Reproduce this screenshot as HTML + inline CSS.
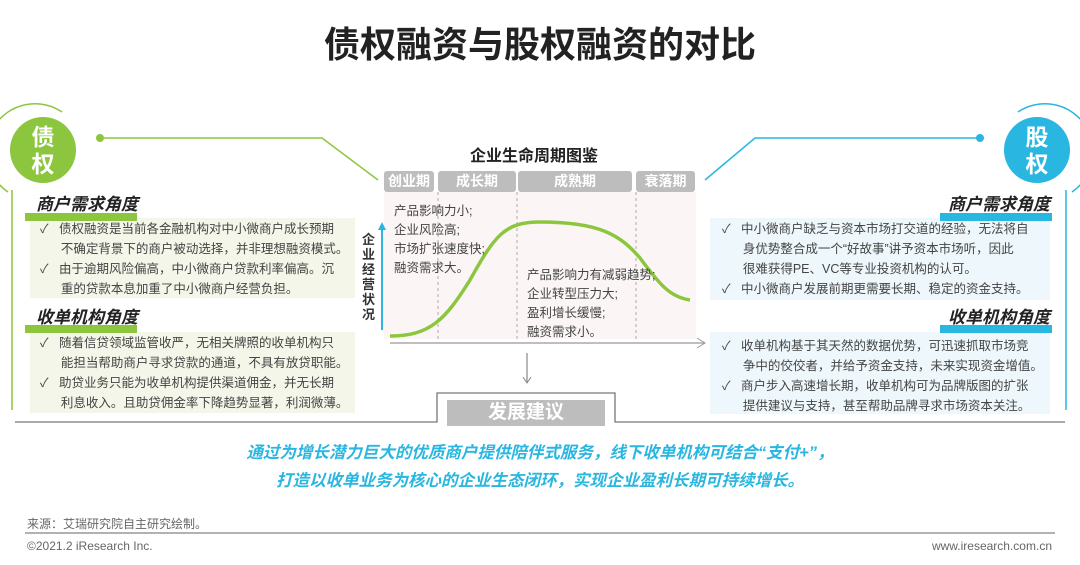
<!DOCTYPE html>
<html><head><meta charset="utf-8"><style>
body{margin:0;width:1080px;height:565px;background:#fff;position:relative;overflow:hidden;font-family:"Liberation Sans","Noto Sans CJK SC",sans-serif;}
.a{position:absolute;white-space:nowrap;}
.t{font-size:12.5px;color:#444;line-height:20px;}
.h{font-size:17px;font-weight:bold;font-style:italic;color:#222;}
.stg{position:absolute;top:171px;height:21px;background:#bdbdbd;color:#fff;font-weight:bold;font-size:14px;text-align:center;line-height:21px;border-radius:3px;}
</style></head><body>
<div class="a" style="left:0;width:1080px;top:16px;text-align:center;font-size:36px;font-weight:bold;color:#222;">债权融资与股权融资的对比</div>

<svg class="a" style="left:0;top:0" width="1080" height="565">
 <path d="M8,192 A42,42 0 0 1 62,112" stroke="#8cc63e" fill="none" stroke-width="1.5"/>
 <circle cx="43" cy="150" r="33" fill="#8cc63e"/>
 <circle cx="100" cy="138" r="4" fill="#8cc63e"/>
 <polyline points="100,138 322,138 378,180" stroke="#8cc63e" fill="none" stroke-width="1.5"/>
 <line x1="12" y1="190" x2="12" y2="410" stroke="#8cc63e" stroke-width="1.5"/>
 <path d="M1072,192 A42,42 0 0 0 1018,112" stroke="#29b6e0" fill="none" stroke-width="1.5"/>
 <circle cx="1037" cy="150" r="33" fill="#29b6e0"/>
 <circle cx="980" cy="138" r="4" fill="#29b6e0"/>
 <polyline points="980,138 755,138 705,180" stroke="#29b6e0" fill="none" stroke-width="1.5"/>
 <line x1="1066" y1="190" x2="1066" y2="410" stroke="#29b6e0" stroke-width="1.5"/>
 <rect x="30" y="218" width="325" height="80" fill="#f3f6e8"/>
 <rect x="30" y="332" width="325" height="81" fill="#f3f6e8"/>
 <rect x="710" y="218" width="340" height="82" fill="#eef7fb"/>
 <rect x="710" y="332" width="340" height="82" fill="#eef7fb"/>
 <rect x="25" y="213" width="112" height="8" fill="#8cc63e"/>
 <rect x="25" y="325" width="112" height="8" fill="#8cc63e"/>
 <rect x="940" y="213" width="112" height="8" fill="#29b6e0"/>
 <rect x="940" y="325" width="112" height="8" fill="#29b6e0"/>
 <rect x="384" y="192" width="312" height="147" fill="#fbf5f5"/>
 <g stroke="#aaa" stroke-dasharray="3,3"><line x1="438" y1="192" x2="438" y2="340"/><line x1="517" y1="192" x2="517" y2="340"/><line x1="636" y1="192" x2="636" y2="340"/></g>
 <path d="M390,336 C430,336 445,320 470,280 C495,235 505,222 540,222 C600,222 620,235 640,258 C660,285 670,297 690,300" stroke="#8cc63e" stroke-width="3.5" fill="none"/>
 <line x1="390" y1="343" x2="705" y2="343" stroke="#999" stroke-width="1.2"/>
 <polyline points="697,338 705,343 697,348" stroke="#999" fill="none"/>
 <line x1="382" y1="330" x2="382" y2="228" stroke="#29b6e0" stroke-width="2"/>
 <polygon points="378,230 382,222 386,230" fill="#29b6e0"/>
 <line x1="527" y1="353" x2="527" y2="382" stroke="#888" stroke-width="1.2"/>
 <polyline points="523,377 527,383 531,377" stroke="#888" fill="none"/>
 <polyline points="15,422 437,422 437,393 615,393 615,422 1065,422" stroke="#777" fill="none" stroke-width="1.3"/>
 <rect x="447" y="400" width="158" height="26" fill="#bdbdbd"/>
 <line x1="25" y1="533" x2="1055" y2="533" stroke="#999" stroke-width="1.5"/>
</svg>

<div class="a" style="left:28px;top:124px;width:30px;font-size:23px;line-height:27px;color:#fff;font-weight:bold;text-align:center;">债<br>权</div>
<div class="a" style="left:1022px;top:124px;width:30px;font-size:23px;line-height:27px;color:#fff;font-weight:bold;text-align:center;">股<br>权</div>

<div class="a h" style="left:36px;top:190px;">商户需求角度</div>
<div class="a t" style="left:40px;top:219px;">✓&nbsp;&nbsp; 债权融资是当前各金融机构对中小微商户成长预期<br>&nbsp;&nbsp;&nbsp;&nbsp;&nbsp;&nbsp;不确定背景下的商户被动选择，并非理想融资模式。<br>✓&nbsp;&nbsp; 由于逾期风险偏高，中小微商户贷款利率偏高。沉<br>&nbsp;&nbsp;&nbsp;&nbsp;&nbsp;&nbsp;重的贷款本息加重了中小微商户经营负担。</div>
<div class="a h" style="left:36px;top:303px;">收单机构角度</div>
<div class="a t" style="left:40px;top:333px;">✓&nbsp;&nbsp; 随着信贷领域监管收严，无相关牌照的收单机构只<br>&nbsp;&nbsp;&nbsp;&nbsp;&nbsp;&nbsp;能担当帮助商户寻求贷款的通道，不具有放贷职能。<br>✓&nbsp;&nbsp; 助贷业务只能为收单机构提供渠道佣金，并无长期<br>&nbsp;&nbsp;&nbsp;&nbsp;&nbsp;&nbsp;利息收入。且助贷佣金率下降趋势显著，利润微薄。</div>

<div class="a h" style="right:30px;top:190px;">商户需求角度</div>
<div class="a t" style="left:722px;top:219px;">✓&nbsp;&nbsp; 中小微商户缺乏与资本市场打交道的经验，无法将自<br>&nbsp;&nbsp;&nbsp;&nbsp;&nbsp;&nbsp;身优势整合成一个“好故事”讲予资本市场听，因此<br>&nbsp;&nbsp;&nbsp;&nbsp;&nbsp;&nbsp;很难获得PE、VC等专业投资机构的认可。<br>✓&nbsp;&nbsp; 中小微商户发展前期更需要长期、稳定的资金支持。</div>
<div class="a h" style="right:30px;top:303px;">收单机构角度</div>
<div class="a t" style="left:722px;top:336px;">✓&nbsp;&nbsp; 收单机构基于其天然的数据优势，可迅速抓取市场竞<br>&nbsp;&nbsp;&nbsp;&nbsp;&nbsp;&nbsp;争中的佼佼者，并给予资金支持，未来实现资金增值。<br>✓&nbsp;&nbsp; 商户步入高速增长期，收单机构可为品牌版图的扩张<br>&nbsp;&nbsp;&nbsp;&nbsp;&nbsp;&nbsp;提供建议与支持，甚至帮助品牌寻求市场资本关注。</div>

<div class="a" style="left:470px;top:142px;font-size:16px;font-weight:bold;color:#222;">企业生命周期图鉴</div>
<div class="stg" style="left:384px;width:50px;">创业期</div>
<div class="stg" style="left:438px;width:78px;">成长期</div>
<div class="stg" style="left:518px;width:114px;">成熟期</div>
<div class="stg" style="left:636px;width:59px;">衰落期</div>
<div class="a" style="left:362px;top:232px;width:14px;font-size:13px;font-weight:bold;line-height:15px;color:#333;">企<br>业<br>经<br>营<br>状<br>况</div>
<div class="a t" style="left:394px;top:202px;line-height:19px;font-size:12.5px;">产品影响力小;<br>企业风险高;<br>市场扩张速度快;<br>融资需求大。</div>
<div class="a t" style="left:527px;top:266px;line-height:19px;font-size:12.5px;">产品影响力有减弱趋势;<br>企业转型压力大;<br>盈利增长缓慢;<br>融资需求小。</div>
<div class="a" style="left:447px;top:400px;width:158px;text-align:center;font-size:19px;line-height:26px;font-weight:bold;color:#fff;">发展建议</div>

<div class="a" style="left:0;width:1080px;top:439px;text-align:center;font-size:16.5px;font-weight:bold;font-style:italic;color:#29b6e0;line-height:28px;">通过为增长潜力巨大的优质商户提供陪伴式服务，线下收单机构可结合“支付+”，<br>打造以收单业务为核心的企业生态闭环，实现企业盈利长期可持续增长。</div>

<div class="a" style="left:27px;top:515px;font-size:12px;color:#666;">来源：艾瑞研究院自主研究绘制。</div>
<div class="a" style="left:27px;top:539px;font-size:12px;color:#666;">©2021.2 iResearch Inc.</div>
<div class="a" style="right:28px;top:539px;font-size:12px;color:#666;">www.iresearch.com.cn</div>
</body></html>
